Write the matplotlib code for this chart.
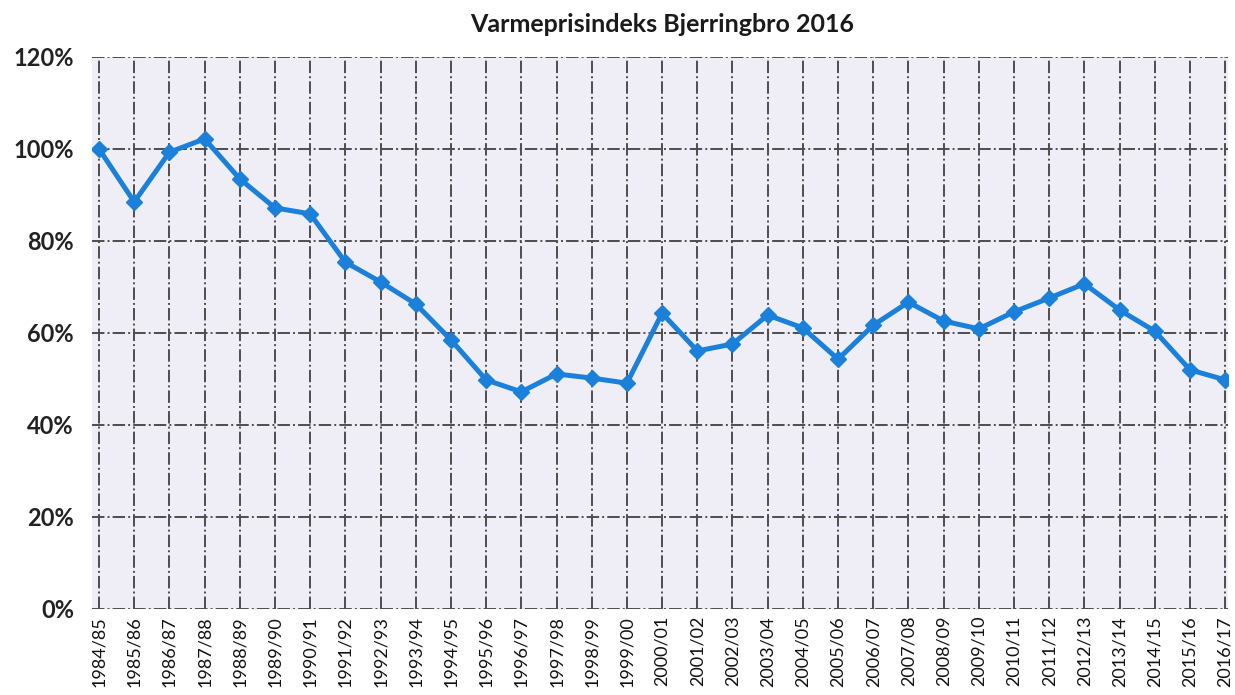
import matplotlib
matplotlib.use("Agg")
import matplotlib.pyplot as plt
from matplotlib.ticker import FuncFormatter

plt.rcParams['font.family'] = ['Lato', 'DejaVu Sans']

seasons = ["1984/85", "1985/86", "1986/87", "1987/88", "1988/89", "1989/90", "1990/91",
           "1991/92", "1992/93", "1993/94", "1994/95", "1995/96", "1996/97", "1997/98",
           "1998/99", "1999/00", "2000/01", "2001/02", "2002/03", "2003/04", "2004/05",
           "2005/06", "2006/07", "2007/08", "2008/09", "2009/10", "2010/11", "2011/12",
           "2012/13", "2013/14", "2014/15", "2015/16", "2016/17"]
index_pct = [100.0, 88.5, 99.3, 102.2, 93.5, 87.2, 85.9, 75.4, 71.1, 66.3, 58.5, 49.8,
             47.2, 51.1, 50.2, 49.1, 64.3, 56.1, 57.6, 63.9, 61.1, 54.3, 61.7, 66.7,
             62.6, 60.9, 64.6, 67.6, 70.7, 65.0, 60.4, 52.0, 49.8]
title = "Varmeprisindeks Bjerringbro 2016"

fig = plt.figure(figsize=(12.35, 6.95), dpi=100)
ax = fig.add_axes([92/1235, 1 - 609/695, (1228-92)/1235, (609-57)/695])
ax.set_facecolor("#efeef6")

x = list(range(len(seasons)))
ax.plot(x, index_pct, color="#1b80da", linewidth=3.6, marker="D", markersize=8.5,
        markeredgecolor="#1b80da", zorder=3)

ax.set_xlim(-0.2, len(seasons) - 1 + 0.08)
ax.set_ylim(0, 120)
ax.set_yticks(range(0, 121, 20))
ax.yaxis.set_major_formatter(FuncFormatter(lambda v, p: f"{int(v)}%"))
ax.set_xticks(x)
ax.set_xticklabels(seasons, rotation=90, fontsize=13)

for lbl in ax.get_yticklabels():
    lbl.set_fontsize(17)
    lbl.set_fontweight("bold")
    lbl.set_color("#222222")

ax.grid(True, color="#4d4d4d", linestyle="-.", linewidth=1.4, zorder=1)
ax.set_axisbelow(True)
for s in ax.spines.values():
    s.set_visible(False)
ax.tick_params(axis="y", length=0, pad=13)
ax.tick_params(axis="x", length=0, pad=5, colors="#111111")

fig.text(662/1235, 1 - 25/695, title, ha="center", va="center",
         fontsize=18, fontweight="bold", color="#1a1a1a")

fig.savefig("out.png", dpi=100, facecolor="white")
